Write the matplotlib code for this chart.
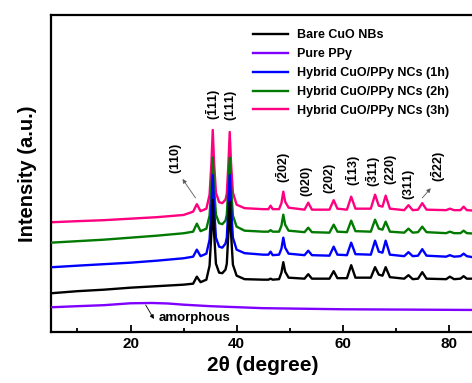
import matplotlib
matplotlib.use("Agg")
import matplotlib.pyplot as plt

plt.rcParams['font.family'] = ['Liberation Sans', 'DejaVu Sans']
plt.rcParams['font.weight'] = 'bold'
plt.rcParams['mathtext.fontset'] = 'custom'
plt.rcParams['mathtext.rm'] = 'Liberation Sans:bold'
plt.rcParams['mathtext.bf'] = 'Liberation Sans:bold'
plt.rcParams['mathtext.it'] = 'Liberation Sans:bold'

# XRD patterns, 2theta in degrees, intensity in a.u. (curves stacked with offsets)
two_theta = [5, 10, 15, 20, 25, 30, 31.8, 32.5, 33.2, 34.3, 34.9, 35.25, 35.5, 35.75, 36.1,
             36.7, 37.3, 37.9, 38.15, 38.45, 38.7, 38.95, 39.3, 40.0, 41.5, 45, 46.0, 46.4,
             46.8, 48.0, 48.45, 48.8, 49.15, 49.8, 52.8, 53.5, 54.2, 57.5, 58.3, 59.0, 60.8,
             61.6, 62.4, 65.3, 66.1, 66.8, 67.5, 68.1, 68.9, 71.6, 72.4, 73.2, 74.2, 75.0,
             75.8, 79.5, 80.2, 81, 82.2, 82.8, 83.4, 85]

bare_cuo = [38.4, 40.5, 42, 44, 45.5, 47, 48, 55, 49.5, 52, 66, 99, 131.7, 99, 68,
            59, 58.5, 62, 68, 99, 130, 98, 67, 56, 52.5, 52, 52, 53,
            52, 52.5, 59, 69.5, 60, 54, 53, 57.5, 53, 53, 60.5, 53.5, 53.5,
            66.5, 54, 54, 64.5, 57, 56, 64.5, 54.5, 53, 56.5, 52.5, 53, 59.5,
            53, 52.5, 55, 52.5, 53, 55.5, 53, 53]

hybrid_1h = [64.4, 66, 67.5, 69, 71, 73.4, 75, 82, 75.5, 78, 92, 124, 156.7, 124, 94,
             85, 84, 88, 94, 125, 156.7, 125, 94, 82, 78.5, 77, 77, 80,
             76.5, 77, 83, 94, 84, 78, 76.5, 81, 76.5, 76, 85, 77, 76.5,
             89, 77.5, 77, 91, 80, 79, 91, 77, 75.5, 79.5, 75.5, 76, 82.5,
             76, 75, 76.5, 75, 75.5, 78, 75.5, 74]

hybrid_2h = [89, 90.5, 92, 94, 96, 98.4, 100, 108, 100.5, 103, 116, 145, 174, 145, 117,
             108.5, 107.5, 111, 117, 145, 174, 145, 116, 105, 101, 100, 100, 101.5,
             100, 100, 106, 117, 107, 101, 99.5, 104, 99.5, 99, 107, 100, 99.5,
             111, 100.5, 100, 112, 103, 102, 110, 100, 99, 103, 99, 99.5, 105,
             99.5, 98.5, 100, 98.5, 98.5, 101, 98.5, 98]

hybrid_3h = [109.4, 110.5, 111.5, 113, 114.5, 116.7, 120, 127.5, 120.5, 123, 137, 169, 201.7, 169, 139,
             129.5, 128.5, 132, 138, 168, 199.7, 168, 139, 127, 123.5, 122.5, 122.5, 126,
             122.5, 122.5, 128.5, 140, 130, 124, 122, 129, 122, 122, 131.5, 123, 122,
             135, 123, 123, 137, 126, 125, 136, 123, 121.5, 126.5, 121.5, 122, 128.5,
             122, 121.5, 123, 121.5, 121.5, 125, 121.5, 121]

ppy_theta = [5, 10, 15, 20, 24, 27, 30, 35, 45, 60, 85]
pure_ppy = [24.4, 25.5, 26.5, 28.4, 28.7, 28.2, 27, 25.5, 23.5, 22.4, 21.7]

# Miller index labels: text, x, y
hkl_labels = [r'$(110)$', r'$(\bar{1}11)$', r'$(111)$', r'$(\bar{2}02)$', r'$(020)$',
              r'$(202)$', r'$(\bar{1}13)$', r'$(\bar{3}11)$', r'$(220)$', r'$(311)$',
              r'$(\bar{2}22)$']
hkl_x = [28.5, 35.7, 38.85, 48.9, 53.2, 57.6, 62.0, 65.8, 69.2, 72.5, 78.1]
hkl_y = [172.7, 226.7, 225.7, 163.7, 149.7, 152.7, 160.7, 159.7, 161.7, 146.7, 164.7]

fig = plt.figure(figsize=(4.72, 3.83), dpi=100)
ax = fig.add_axes([0.108, 0.134, 0.899, 0.827])

lw = 1.7
ax.plot(two_theta, bare_cuo, color='black', lw=lw, label='Bare CuO NBs', zorder=5)
ax.plot(ppy_theta, pure_ppy, color='#8000FF', lw=lw, label='Pure PPy', zorder=5)
ax.plot(two_theta, hybrid_1h, color='#0000FF', lw=lw, label='Hybrid CuO/PPy NCs (1h)', zorder=4)
ax.plot(two_theta, hybrid_2h, color='#007A00', lw=lw, label='Hybrid CuO/PPy NCs (2h)', zorder=3)
ax.plot(two_theta, hybrid_3h, color='#FF0080', lw=lw, label='Hybrid CuO/PPy NCs (3h)', zorder=2)

for lab, x, y in zip(hkl_labels, hkl_x, hkl_y):
    ax.text(x, y, lab, rotation=90, ha='center', va='center', fontsize=9)

arrow = dict(arrowstyle='-|>', color='0.35', lw=0.6, mutation_scale=6, shrinkA=0, shrinkB=0)
ax.annotate('', xy=(29.8, 152.7), xytext=(32.25, 133.7), arrowprops=arrow)
ax.annotate('', xy=(76.6, 143.4), xytext=(75.0, 133.7), arrowprops=arrow)
ax.annotate('', xy=(24.4, 12.7), xytext=(22.85, 26.7),
            arrowprops=dict(arrowstyle='-|>', color='black', lw=0.6, mutation_scale=6,
                            shrinkA=0, shrinkB=0))
ax.text(25.3, 14, 'amorphous', ha='left', va='center', fontsize=9.5)

ax.set_xlim(5, 85)
ax.set_ylim(0, 316.7)
ax.set_xticks([20, 40, 60, 80])
ax.set_xticks([10, 30, 50, 70], minor=True)
ax.set_yticks([])
ax.tick_params(axis='x', which='both', direction='in', width=1.3, labelsize=11)
ax.tick_params(axis='x', which='major', length=5)
ax.tick_params(axis='x', which='minor', length=3)
for s in ax.spines.values():
    s.set_linewidth(1.6)

ax.set_xlabel('2θ (degree)', fontsize=15, fontweight='bold', labelpad=4)
ax.set_ylabel('Intensity (a.u.)', fontsize=14.5, fontweight='bold', labelpad=10)

ax.legend(loc='upper left', bbox_to_anchor=(0.45, 0.99), frameon=False, fontsize=9,
          handlelength=2.8, handletextpad=0.7, labelspacing=0.55)

fig.savefig('out.png', dpi=100)
